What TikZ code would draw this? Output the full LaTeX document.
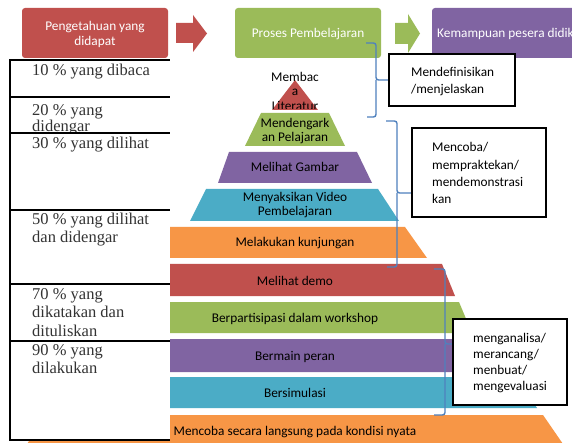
\documentclass[tikz,border=0pt]{standalone}
\usepackage{fontspec}
\setmainfont{Carlito}
\newfontfamily\tabfont{Liberation Serif}
\newcommand\pyrfont{\fontsize{13.3}{15}\selectfont}
\newcommand\tabsize{\fontsize{16.5}{17}\selectfont}
\definecolor{cred}{HTML}{C0504D}
\definecolor{cgreen}{HTML}{9BBB59}
\definecolor{cpurple}{HTML}{8064A2}
\definecolor{cteal}{HTML}{4BACC6}
\definecolor{corange}{HTML}{F79646}
\definecolor{cblue}{HTML}{4F81BD}
\begin{document}
\begin{tikzpicture}[x=1pt,y=-1pt,
  ptext/.style={font=\pyrfont, anchor=base, inner sep=0pt, text=black},
  wtext/.style={font=\pyrfont, anchor=base, inner sep=0pt, text=white},
  btext/.style={font=\pyrfont, anchor=base west, inner sep=0pt, text=black},
  ttext/.style={font=\tabfont\tabsize, anchor=base west, inner sep=0pt, text=black!80},
  tline/.style={draw=black, line width=1.1pt},
  bracestyle/.style={draw=cblue, line width=1.4pt, rounded corners=2.5pt},
  framebox/.style={draw=black, line width=1.1pt, fill=white},
  topbox/.style={rounded corners=3pt}]
\clip (0,0) rectangle (572,443);
\fill[white] (0,0) rectangle (572,443);

% ---------- top row ----------
\fill[cred, topbox] (22,8) rectangle (168,58);
\node[wtext] (t1a) at (95,30.5) {Pengetahuan yang};
\node[wtext] (t1b) at (95,45.5) {didapat};
\fill[cred] (176,23) -- (193,23) -- (193,15) -- (207,33.5) -- (193,52) -- (193,43) -- (176,43) -- cycle;
\fill[cgreen, topbox] (235,8) rectangle (381,58);
\node[wtext] (t2) at (308,37.5) {Proses Pembelajaran};
\fill[cgreen] (395,23) -- (408,23) -- (408,14) -- (420,33.5) -- (408,53) -- (408,44) -- (395,44) -- cycle;
\fill[cpurple, topbox] (432,8) rectangle (620,58);
\node[wtext, anchor=base west] (t3) at (437,37.5) {Kemampuan pesera didik};

% ---------- pyramid ----------
\fill[cred] (295,80) -- (318,110) -- (272,110) -- cycle;
\fill[cgreen] (261,113) -- (329,113) -- (345,146) -- (245,146) -- cycle;
\fill[cpurple] (229,152) -- (357,152) -- (372,183) -- (218,183) -- cycle;
\fill[cteal] (206,189) -- (378,189) -- (399,221) -- (190,221) -- cycle;
\fill[corange] (150,227) -- (405,227) -- (427,258) -- (140,258) -- cycle;
\fill[cred] (148,264) -- (442,264) -- (455,296) -- (135,296) -- cycle;
\fill[cgreen] (131,302) -- (459,302) -- (472,333) -- (118,333) -- cycle;
\fill[cpurple] (105,339) -- (485,339) -- (505,372) -- (85,372) -- cycle;
\fill[cteal] (73,377) -- (517,377) -- (537,408) -- (53,408) -- cycle;
\fill[corange] (47,415) -- (543,415) -- (574,460) -- (16,460) -- cycle;

\begin{scope}
\clip (240,60) rectangle (350,108.5);
\node[ptext] (p1a) at (295,82) {Membac};
\node[ptext] (p1b) at (295,96) {a};
\node[ptext] (p1c) at (295,111) {Literatur};
\end{scope}
\node[ptext] (p2a) at (295,128) {Mendengark};
\node[ptext] (p2b) at (295,142) {an Pelajaran};
\node[ptext] (p3) at (295,172) {Melihat Gambar};
\node[ptext] (p4a) at (295,202) {Menyaksikan Video};
\node[ptext] (p4b) at (295,216) {Pembelajaran};
\node[ptext] (p5) at (295,247) {Melakukan kunjungan};
\node[ptext] (p6) at (295,285) {Melihat demo};
\node[ptext] (p7) at (295,322) {Berpartisipasi dalam workshop};
\node[ptext] (p8) at (295,360) {Bermain peran};
\node[ptext] (p9) at (295,397) {Bersimulasi};
\node[ptext] (p10) at (295,435) {Mencoba secara langsung pada kondisi nyata};

% ---------- table ----------
\fill[white] (10,60) rectangle (170,440);
\node[ttext] (r1) at (32,76) {10 \% yang dibaca};
\node[ttext] (r2a) at (32,116) {20 \% yang};
\begin{scope}
\clip (10,97) rectangle (170,133);
\node[ttext] (r2b) at (32,132) {didengar};
\end{scope}
\node[ttext] (r3) at (32,149) {30 \% yang dilihat};
\node[ttext] (r4a) at (32,225) {50 \% yang dilihat};
\node[ttext] (r4b) at (32,243) {dan didengar};
\node[ttext] (r5a) at (32,299) {70 \% yang};
\node[ttext] (r5b) at (32,317) {dikatakan dan};
\node[ttext] (r5c) at (32,336) {dituliskan};
\node[ttext] (r6a) at (32,355) {90 \% yang};
\node[ttext] (r6b) at (32,373) {dilakukan};
\foreach \yy in {60,97,133,210,284,341,440} {
  \draw[tline] (10,\yy) -- (170,\yy);
}
\draw[draw=black, line width=1.6pt] (10,59.5) -- (10,440.5);

% ---------- braces and boxes ----------
\coordinate (b1t) at (366,43);
\coordinate (b1m) at (388,80);
\coordinate (b1b) at (367,117);
\draw[bracestyle] (b1t) -- (376,43) -- (376,80) -- (b1m);
\draw[bracestyle] (376,80) -- (376,117) -- (b1b);

\coordinate (b2t) at (386,121);
\coordinate (b2m) at (411,193);
\coordinate (b2b) at (387,267);
\draw[bracestyle] (b2t) -- (397,121) -- (397,193) -- (b2m);
\draw[bracestyle] (397,193) -- (397,267) -- (b2b);

\draw[framebox] (389,54) rectangle (515,106);
\node[btext] (k1a) at (411,77) {Mendefinisikan};
\node[btext] (k1b) at (411,94) {/menjelaskan};

\draw[framebox] (412,128) rectangle (546,217);
\node[btext] (k2a) at (432,152) {Mencoba/};
\node[btext] (k2b) at (432,170) {mempraktekan/};
\node[btext] (k2c) at (432,187) {mendemonstrasi};
\node[btext] (k2d) at (432,204) {kan};

\coordinate (b3t) at (434,269);
\coordinate (b3m) at (453,344);
\coordinate (b3b) at (434,415);
\draw[bracestyle] (b3t) -- (445,269) -- (445,344) -- (b3m);
\draw[bracestyle] (445,344) -- (445,415) -- (b3b);

\draw[framebox] (453,319) rectangle (567,405);
\node[btext] (k3a) at (473,342) {menganalisa/};
\node[btext] (k3b) at (473,358) {merancang/};
\node[btext] (k3c) at (473,374) {menbuat/};
\node[btext] (k3d) at (473,390) {mengevaluasi};
\end{tikzpicture}
\end{document}
